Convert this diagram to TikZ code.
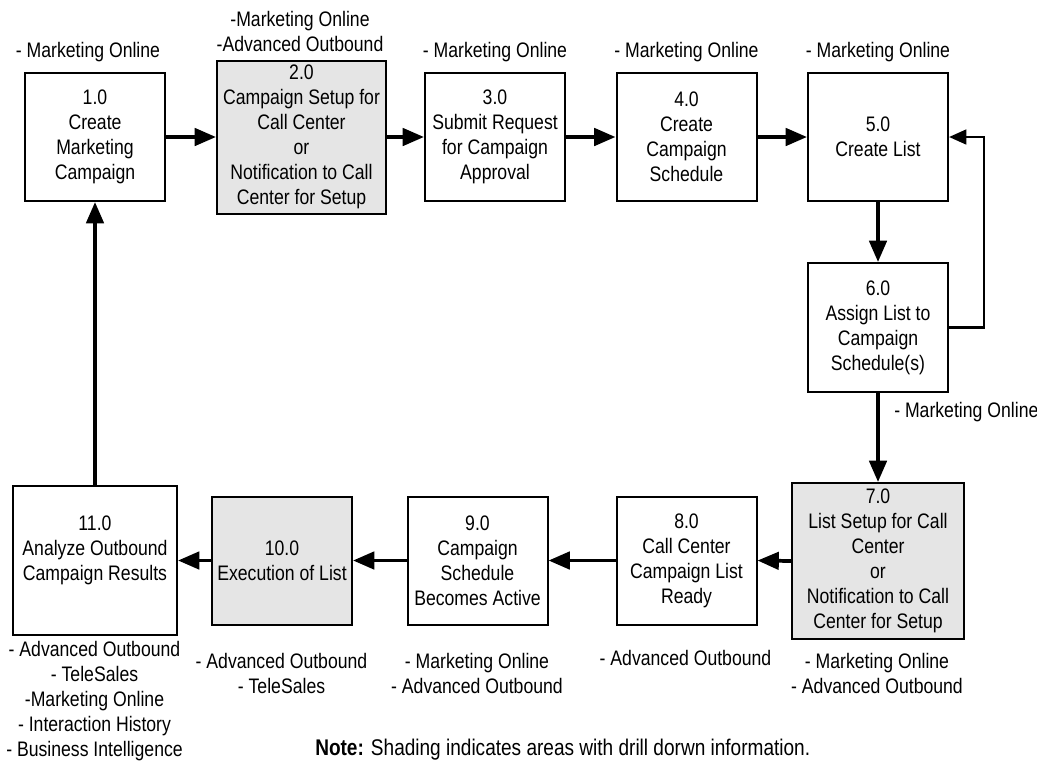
\documentclass[tikz,border=0pt]{standalone}
\usepackage{fontspec}
\setmainfont{Liberation Sans}[FakeStretch=0.84]
\usetikzlibrary{arrows.meta}

\begin{document}
\begin{tikzpicture}[x=0.75pt,y=-0.75pt,
  font=\fontsize{15.75}{18.75}\selectfont,
  box/.style={draw, line width=1.5pt, align=center, inner sep=0pt,
    minimum width=105pt, minimum height=96pt},
  shaded/.style={box, fill=gray!20},
  lbl/.style={align=center, inner sep=0pt},
  flow/.style={line width=2.8pt, -{Triangle[length=16pt,width=13pt]}},
  back/.style={line width=2pt, -{Triangle[length=13pt,width=11pt]}}
]
\useasboundingbox (0,0) rectangle (1037,761);

% top row
\node[box] (n1) at (95,137) {1.0\\Create\\Marketing\\Campaign};
\node[shaded, minimum width=126.75pt, minimum height=114.75pt] (n2) at (301.5,137)
  {2.0\\Campaign Setup for\\Call Center\\or\\Notification to Call\\Center for Setup};
\node[box] (n3) at (495,137) {3.0\\Submit Request\\for Campaign\\Approval};
\node[box] (n4) at (686.5,137) {4.0\\Create\\Campaign\\Schedule};
\node[box] (n5) at (878,137) {5.0\\Create List};

% right column
\node[box, minimum height=96.75pt] (n6) at (878,327.5) {6.0\\Assign List to\\Campaign\\Schedule(s)};

% bottom row
\node[shaded, minimum width=129pt, minimum height=117pt] (n7) at (878,561)
  {7.0\\List Setup for Call\\Center\\or\\Notification to Call\\Center for Setup};
\node[box] (n8) at (686.5,560.5) {8.0\\Call Center\\Campaign List\\Ready};
\node[box] (n9) at (477.5,560.5) {9.0\\Campaign\\Schedule\\Becomes Active};
\node[shaded] (n10) at (282,560.5) {10.0\\Execution of List};
\node[box, minimum width=123pt, minimum height=111.75pt] (n11) at (95,560.5)
  {11.0\\Analyze Outbound\\Campaign Results\\~};

% connectors
\draw[flow] (n1.east) -- (n2.west);
\draw[flow] (n2.east) -- (n3.west);
\draw[flow] (n3.east) -- (n4.west);
\draw[flow] (n4.east) -- (n5.west);
\draw[flow] (n5.south) -- (n6.north);
\draw[back] (n6.east) -- ++(35,0) |- (n5.east);
\draw[flow] (n6.south) -- (n7.north);
\draw[flow] (n7.west) -- (n8.east);
\draw[flow] (n8.west) -- (n9.east);
\draw[flow] (n9.west) -- (n10.east);
\draw[flow] (n10.west) -- (n11.east);
\draw[flow] (n11.north) -- (n1.south);

% product labels
\node[lbl] (t1) at (88,52) {- Marketing Online};
\node[lbl] (t2) at (300,31) {-Marketing Online\\-Advanced Outbound};
\node[lbl] (t3) at (495,52) {- Marketing Online};
\node[lbl] (t4) at (686.5,52) {- Marketing Online};
\node[lbl] (t5) at (878,52) {- Marketing Online};
\node[lbl, anchor=west] (t6) at (894,412) {- Marketing Online};
\node[lbl] (b7) at (877,673) {- Marketing Online\\- Advanced Outbound};
\node[lbl] (b8) at (685.5,658) {- Advanced Outbound};
\node[lbl] (b9) at (477,673) {- Marketing Online\\- Advanced Outbound};
\node[lbl] (b10) at (281.5,673) {- Advanced Outbound\\- TeleSales};
\node[lbl] (b11) at (94.5,701) {- Advanced Outbound\\- TeleSales\\-Marketing Online\\- Interaction History\\- Business Intelligence};

% footnote
\node[lbl, anchor=west, font=\fontsize{17}{20}\selectfont] (note) at (315,750)
  {\textbf{Note:} Shading indicates areas with drill dorwn information.};
\end{tikzpicture}
\end{document}
